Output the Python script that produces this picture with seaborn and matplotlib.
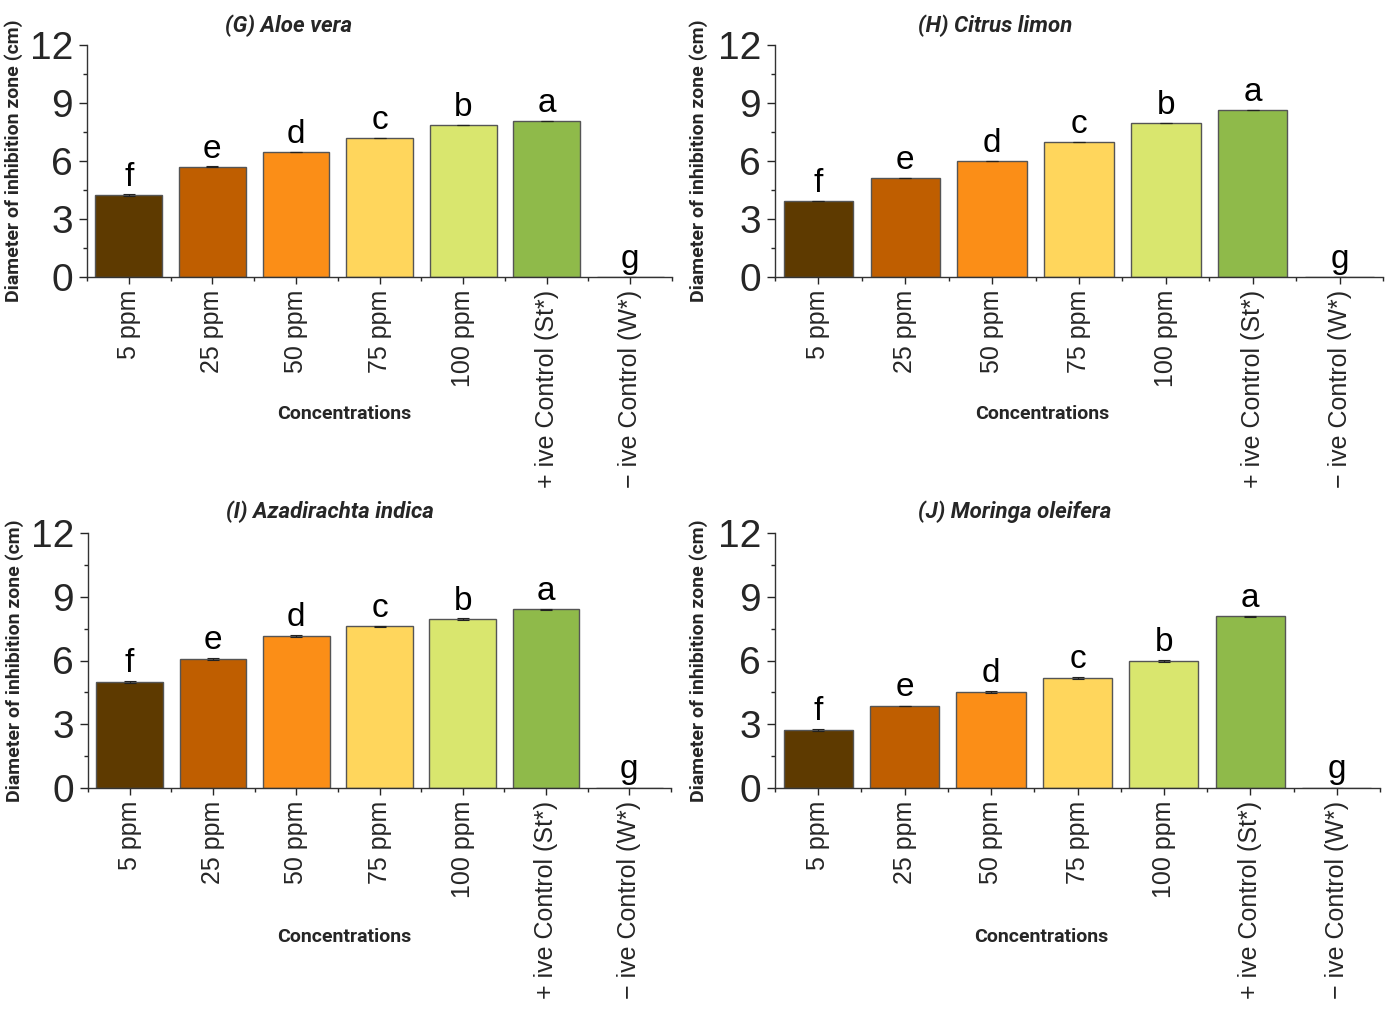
import matplotlib
matplotlib.use("Agg")
import matplotlib.pyplot as plt
import seaborn as sns
import pandas as pd
from matplotlib.ticker import MultipleLocator, FixedLocator

# ------------------- data -------------------
categories = ["5 ppm", "25 ppm", "50 ppm", "75 ppm", "100 ppm",
              "+ ive Control (St*)", "\u2212 ive Control (W*)"]
letters = ["f", "e", "d", "c", "b", "a", "g"]

aloe_vera = [4.24, 5.70, 6.47, 7.19, 7.86, 8.07, 0.0]
citrus_limon = [3.93, 5.12, 6.00, 6.98, 7.97, 8.64, 0.0]
azadirachta = [4.99, 6.07, 7.15, 7.62, 7.95, 8.42, 0.0]
moringa = [2.73, 3.86, 4.52, 5.18, 5.98, 8.09, 0.0]

aloe_sd = [0.03, 0.03, 0.02, 0.02, 0.02, 0.02, 0.0]
citrus_sd = [0.02, 0.02, 0.02, 0.02, 0.02, 0.02, 0.0]
azad_sd = [0.03, 0.03, 0.03, 0.02, 0.03, 0.02, 0.0]
moringa_sd = [0.03, 0.02, 0.03, 0.03, 0.03, 0.02, 0.0]

titles = ["(G) ", "(H) ", "(I) ", "(J) "]
species = ["Aloe vera", "Citrus limon", "Azadirachta indica", "Moringa oleifera"]

colors = ["#5e3a00", "#bf5e00", "#fb8e17", "#ffd65c", "#d9e66e", "#8fba4a", "#ffffff"]

# axes rectangles in figure fraction (left, bottom, width, height)
W, H = 1392, 1019
boxes = [
    (87 / W, 1 - 277 / H, 585 / W, 232 / H),
    (775 / W, 1 - 277 / H, 608 / W, 232 / H),
    (88 / W, 1 - 788 / H, 583 / W, 255 / H),
    (775 / W, 1 - 788 / H, 605 / W, 255 / H),
]

sns.set_style("white")
plt.rcParams["font.family"] = ["Liberation Sans", "DejaVu Sans"]

fig = plt.figure(figsize=(13.92, 10.19), dpi=100)

panels = [(aloe_vera, aloe_sd), (citrus_limon, citrus_sd),
          (azadirachta, azad_sd), (moringa, moringa_sd)]

for i, (vals, sd) in enumerate(panels):
    ax = fig.add_axes(boxes[i])
    df = pd.DataFrame({"Concentration": categories, "Diameter": vals})
    sns.barplot(data=df, x="Concentration", y="Diameter", hue="Concentration",
                palette=colors, legend=False, width=0.8, saturation=1,
                edgecolor="#555555", linewidth=1, ax=ax)
    ax.errorbar(range(len(vals)), vals, yerr=sd, fmt="none", ecolor="#222222",
                elinewidth=0.8, capsize=4, capthick=0.8)

    for x, (v, let) in enumerate(zip(vals, letters)):
        ax.text(x, v + 0.45, let, ha="center", va="baseline", fontsize=24,
                color="black")

    ax.set_xlim(-0.5, 6.5)
    ax.set_ylim(0, 12)
    ax.yaxis.set_major_locator(MultipleLocator(3))
    ax.yaxis.set_minor_locator(MultipleLocator(1.5))
    ax.xaxis.set_minor_locator(FixedLocator([k + 0.5 for k in range(-1, 7)]))
    ax.tick_params(axis="y", which="major", direction="out", length=6,
                   width=1, labelsize=28, pad=4, left=True)
    ax.tick_params(axis="y", which="minor", direction="out", length=3,
                   width=1, left=True)
    ax.tick_params(axis="x", which="major", direction="out", length=5,
                   width=1, labelsize=18, pad=4, bottom=True)
    ax.tick_params(axis="x", which="minor", direction="out", length=3,
                   width=1, bottom=True)
    ax.set_xticks(range(len(categories)))
    ax.set_xticklabels(categories, rotation=90)

    for s in ["top", "right"]:
        ax.spines[s].set_visible(False)
    for s in ["left", "bottom"]:
        ax.spines[s].set_color("#333333")
        ax.spines[s].set_linewidth(1)

    ax.set_xlabel("Concentrations", fontsize=14, fontweight="bold",
                  family="Roboto")
    ax.xaxis.set_label_coords(0.44, -0.55)
    ax.set_ylabel("Diameter of inhibition zone (cm)", fontsize=14,
                  fontweight="bold", family="Roboto")
    ax.yaxis.set_label_coords(-0.11, 0.5)

    ax.text(0.236, 1.085, titles[i] + species[i], transform=ax.transAxes,
            ha="left", va="center", fontsize=16, fontweight="bold",
            fontstyle="italic", family="Roboto")

fig.savefig("out.png", dpi=100)
